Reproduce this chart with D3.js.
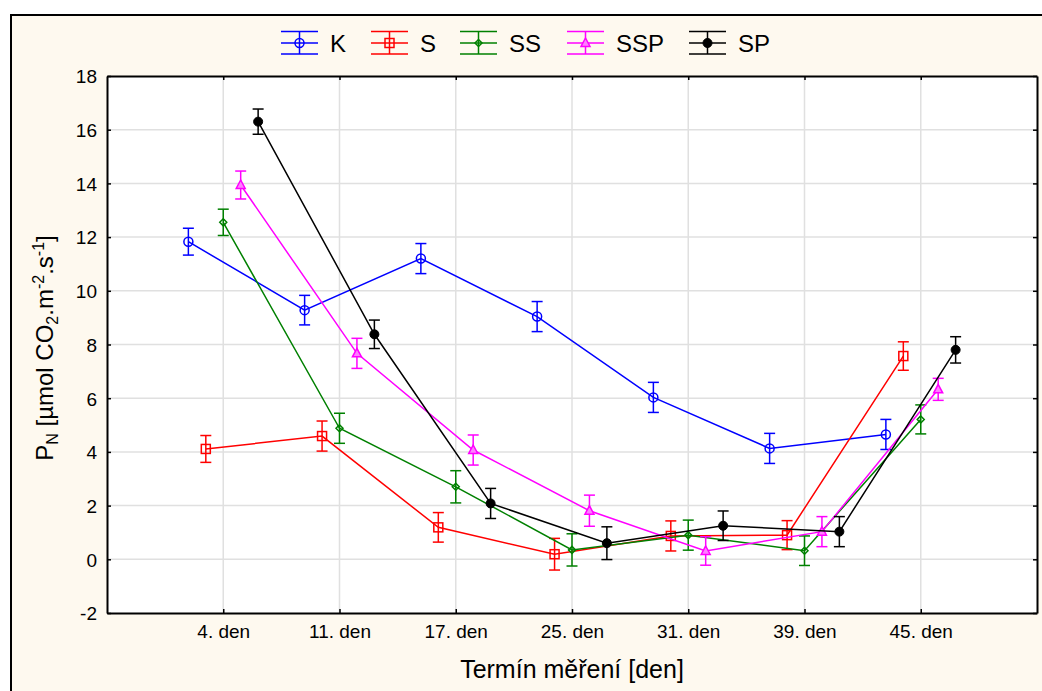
<!DOCTYPE html>
<meta charset="utf-8">
<title>PN</title>
<script src="https://d3js.org/d3.v7.min.js"></script>
<style>
  body { margin: 0; background: #fff; }
  text { font-family: "Liberation Sans", Arial, sans-serif; }
</style>
<body>
<div id="chart"></div>
<script>
// data
var days = ["4. den", "11. den", "17. den", "25. den", "31. den", "39. den", "45. den"];
var seriesNames = ["K", "S", "SS", "SSP", "SP"];
var colors = ["#0000ff", "#ff0000", "#008000", "#ff00ff", "#000000"];

var valK   = [11.83, 9.28, 11.2, 9.04, 6.03, 4.13, 4.65];
var valS   = [4.11, 4.59, 1.19, 0.19, 0.87, 0.9, 7.57];
var valSS  = [12.55, 4.88, 2.7, 0.35, 0.9, 0.32, 5.21];
var valSSP = [13.94, 7.67, 4.07, 1.81, 0.31, 1.03, 6.33];
var valSP  = [16.3, 8.38, 2.08, 0.6, 1.25, 1.03, 7.8];

var errK   = [0.5, 0.55, 0.56, 0.56, 0.56, 0.56, 0.56];
var errS   = [0.5, 0.56, 0.55, 0.59, 0.56, 0.54, 0.53];
var errSS  = [0.49, 0.56, 0.6, 0.6, 0.56, 0.55, 0.54];
var errSSP = [0.52, 0.56, 0.56, 0.58, 0.53, 0.56, 0.41];
var errSP  = [0.47, 0.53, 0.56, 0.61, 0.55, 0.56, 0.49];

var yTicks = [-2, 0, 2, 4, 6, 8, 10, 12, 14, 16, 18];

var values = [valK, valS, valSS, valSSP, valSP];
var errors = [errK, errS, errSS, errSSP, errSP];

var W = 1042, H = 691;
var margin = {top: 76, left: 107, right: 5, bottom: 78};
var width = W - margin.left - margin.right,
    height = H - margin.top - margin.bottom;

var svg = d3.select("#chart").append("svg")
    .attr("width", W).attr("height", H);

// outer frame
svg.append("rect")
  .attr("x", 11).attr("y", 15)
  .attr("width", 1100).attr("height", 700)
  .attr("fill", "#fef9ef")
  .attr("stroke", "#000").attr("stroke-width", 2);

var g = svg.append("g")
  .attr("transform", "translate(" + margin.left + "," + margin.top + ")");

g.append("rect")
  .attr("width", width).attr("height", height)
  .attr("fill", "#fff");

var x = d3.scalePoint().domain(days).range([0, width]).padding(1);
var y = d3.scaleLinear().domain([-2, 18]).range([height, 0]);
var off = x.step() * 0.15;

// grid
g.append("g").selectAll("line").data(yTicks.slice(1, -1)).join("line")
  .attr("x1", 0).attr("x2", width)
  .attr("y1", d => y(d)).attr("y2", d => y(d))
  .attr("stroke", "#e0e0e0").attr("stroke-width", 1.5);
g.append("g").selectAll("line").data(days).join("line")
  .attr("y1", 0).attr("y2", height)
  .attr("x1", d => x(d)).attr("x2", d => x(d))
  .attr("stroke", "#e0e0e0").attr("stroke-width", 1.5);

// axes
var axB = g.append("g").attr("transform", "translate(0," + height + ")")
  .call(d3.axisBottom(x).tickSizeInner(-4).tickSizeOuter(0).tickPadding(12));
var axT = g.append("g")
  .call(d3.axisTop(x).tickSizeInner(-4).tickSizeOuter(0).tickFormat(""));
var axL = g.append("g")
  .call(d3.axisLeft(y).tickValues(yTicks).tickSizeInner(-4).tickSizeOuter(0)
    .tickPadding(10).tickFormat(d => String(d)));
var axR = g.append("g").attr("transform", "translate(" + width + ",0)")
  .call(d3.axisRight(y).tickValues(yTicks).tickSizeInner(-4).tickSizeOuter(0).tickFormat(""));
[axB, axT, axL, axR].forEach(function(a) {
  a.select(".domain").attr("stroke", "#000").attr("stroke-width", 2);
  a.selectAll(".tick line").attr("stroke", "#000").attr("stroke-width", 1.5);
  a.selectAll("text").attr("font-size", "19px").attr("fill", "#000")
    .style("font-family", "'Liberation Sans', Arial, sans-serif");
});
axL.selectAll("text").attr("dy", "0.36em");
axB.selectAll("text").attr("dy", "0.71em");

// marker drawing
function marker(sel, k, cx, cy) {
  var c = colors[k];
  if (k === 0) {
    sel.append("circle").attr("cx", cx).attr("cy", cy).attr("r", 4.5)
      .attr("fill", "none").attr("stroke", c).attr("stroke-width", 1.5);
  } else if (k === 1) {
    sel.append("rect").attr("x", cx - 4.5).attr("y", cy - 4.5)
      .attr("width", 9).attr("height", 9)
      .attr("fill", "none").attr("stroke", c).attr("stroke-width", 1.5);
  } else if (k === 2) {
    sel.append("path").attr("d", "M" + cx + "," + (cy - 3.5) + "L" + (cx + 3.5) + "," + cy +
        "L" + cx + "," + (cy + 3.5) + "L" + (cx - 3.5) + "," + cy + "Z")
      .attr("fill", "none").attr("stroke", c).attr("stroke-width", 1.5);
  } else if (k === 3) {
    sel.append("path").attr("d", "M" + cx + "," + (cy - 5) + "L" + (cx + 4.5) + "," + (cy + 3.5) +
        "L" + (cx - 4.5) + "," + (cy + 3.5) + "Z")
      .attr("fill", "#ff80ff").attr("stroke", c).attr("stroke-width", 1.5);
  } else {
    sel.append("circle").attr("cx", cx).attr("cy", cy).attr("r", 4.5)
      .attr("fill", c).attr("stroke", c).attr("stroke-width", 1);
  }
}

var cap = 5.5;
seriesNames.forEach(function(name, k) {
  var c = colors[k];
  var pts = days.map(function(d, i) {
    return {x: x(d) + (k - 2) * off, v: values[k][i], e: errors[k][i]};
  });
  var sg = g.append("g");
  sg.append("path").datum(pts)
    .attr("d", d3.line().x(p => p.x).y(p => y(p.v)))
    .attr("fill", "none").attr("stroke", c).attr("stroke-width", 1.5);
  pts.forEach(function(p) {
    var eb = sg.append("g").attr("stroke", c).attr("stroke-width", 1.5);
    eb.append("line").attr("x1", p.x).attr("x2", p.x)
      .attr("y1", y(p.v - p.e)).attr("y2", y(p.v + p.e));
    eb.append("line").attr("x1", p.x - cap).attr("x2", p.x + cap)
      .attr("y1", y(p.v + p.e)).attr("y2", y(p.v + p.e));
    eb.append("line").attr("x1", p.x - cap).attr("x2", p.x + cap)
      .attr("y1", y(p.v - p.e)).attr("y2", y(p.v - p.e));
    marker(sg, k, p.x, y(p.v));
  });
});

// legend
var legX = [281, 371, 460, 567, 689];
seriesNames.forEach(function(name, k) {
  var c = colors[k];
  var lg = svg.append("g").attr("stroke", c).attr("stroke-width", 1.5);
  var x0 = legX[k], x1 = x0 + 37, xm = x0 + 18.5;
  [31.5, 43, 54].forEach(function(yy) {
    lg.append("line").attr("x1", x0).attr("x2", x1).attr("y1", yy).attr("y2", yy);
  });
  lg.append("line").attr("x1", xm).attr("x2", xm).attr("y1", 31.5).attr("y2", 54);
  marker(svg, k, xm, 43);
  svg.append("text").attr("x", x1 + 12).attr("y", 52)
    .attr("font-size", "24px").attr("fill", "#000").text(name);
});

// axis titles
svg.append("text")
  .attr("x", 572).attr("y", 678)
  .attr("text-anchor", "middle").attr("font-size", "25px")
  .text("Termín měření [den]");

var yl = svg.append("text")
  .attr("transform", "translate(53,348) rotate(-90)")
  .attr("text-anchor", "middle").attr("font-size", "24px");
yl.append("tspan").text("P");
yl.append("tspan").attr("font-size", "16px").attr("baseline-shift", "-5").text("N");
yl.append("tspan").text(" [µmol CO");
yl.append("tspan").attr("font-size", "16px").attr("baseline-shift", "-5").text("2");
yl.append("tspan").text(".m");
yl.append("tspan").attr("font-size", "16px").attr("baseline-shift", "9").text("-2");
yl.append("tspan").text(".s");
yl.append("tspan").attr("font-size", "16px").attr("baseline-shift", "9").text("-1");
yl.append("tspan").text("]");
</script>
</body>
